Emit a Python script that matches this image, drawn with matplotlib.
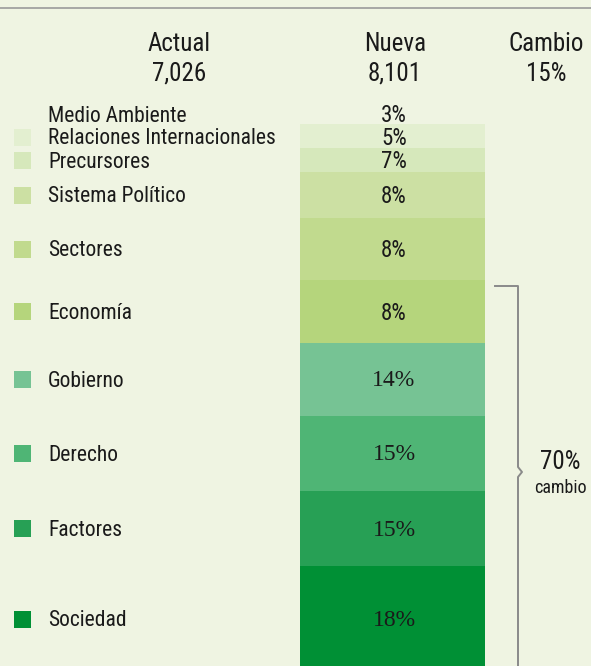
import matplotlib
matplotlib.use("Agg")
from matplotlib import pyplot as plt
import numpy as np

# data
categories = ['Medio Ambiente', 'Relaciones Internacionales', 'Precursores',
              'Sistema Político', 'Sectores', 'Economía', 'Gobierno',
              'Derecho', 'Factores', 'Sociedad']
shares = ['3%', '5%', '7%', '8%', '8%', '8%', '14%', '15%', '15%', '18%']
seg_size = [0, 24, 24, 46, 62, 63, 73, 75, 75, 110]
colors = ['#eff4e2', '#e3efd0', '#d6e8bb', '#cce0a3', '#c1da8e', '#b5d57c',
          '#76c394', '#4fb575', '#27a055', '#009035']
actual_total = '7,026'
nueva_total = '8,101'
cambio_total = '15%'
bracket_label = '70%'

bg = '#eff4e2'
fnt = ['Roboto Condensed', 'DejaVu Sans']
serif = ['Liberation Serif', 'DejaVu Serif']
ink = '#1a1a1a'

fig = plt.figure(figsize=(5.91, 6.66), dpi=100)
fig.patch.set_facecolor(bg)
ax = fig.add_axes([0, 0, 1, 1])
ax.set_facecolor(bg)
ax.set_xlim(0, 591)
ax.set_ylim(666, 0)
ax.axis('off')

# top rule
ax.plot([0, 591], [8, 8], color='#9a9a9a', lw=1.2)

# headers
hdr = dict(ha='center', va='center', fontsize=18, family=fnt, color=ink)
ax.text(179, 44, 'Actual', **hdr)
ax.text(179, 74, actual_total, **hdr)
ax.text(395, 44, 'Nueva', **hdr)
ax.text(395, 74, nueva_total, **hdr)
ax.text(546, 44, 'Cambio', **hdr)
ax.text(546, 74, cambio_total, **hdr)

# stacked bar
bottoms = 124 + np.concatenate([[0], np.cumsum(seg_size)[:-1]])
ax.bar(392, seg_size, width=185, bottom=bottoms, color=colors, lw=0)

label_y = list(bottoms + np.array(seg_size) / 2)
label_y[0] = 114
label_y[1] = 137
label_y[2] = 160
label_y[-1] = 619

for i, (cat, s) in enumerate(zip(categories, shares)):
    y = label_y[i]
    if i >= 6:
        ax.text(394, y + 1.5, s, ha='center', va='center', fontsize=17, family=serif, color=ink)
    else:
        ax.text(394, y + 1.5, s, ha='center', va='center', fontsize=16.5, family=fnt, color=ink)
    # legend
    if i > 0:
        ax.add_patch(plt.Rectangle((14, y - 8.5), 17, 17, color=colors[i], lw=0))
    ax.text(48, y + 2, cat, ha='left', va='center', fontsize=15.5, family=fnt, color=ink)

# bracket
top_y = 286
bot_y = 670
notch_y = 472
bx = 518
ax.plot([495, bx, bx, bx + 4, bx, bx], [top_y, top_y, notch_y - 5, notch_y, notch_y + 5, bot_y],
        color='#8a8a8a', lw=1.4)
ax.text(560, 462, bracket_label, ha='center', va='center', fontsize=18, family=fnt, color=ink)
ax.text(560, 488, 'cambio', ha='center', va='center', fontsize=13, family=fnt, color=ink)

fig.savefig('out.png', dpi=100, facecolor=bg)
